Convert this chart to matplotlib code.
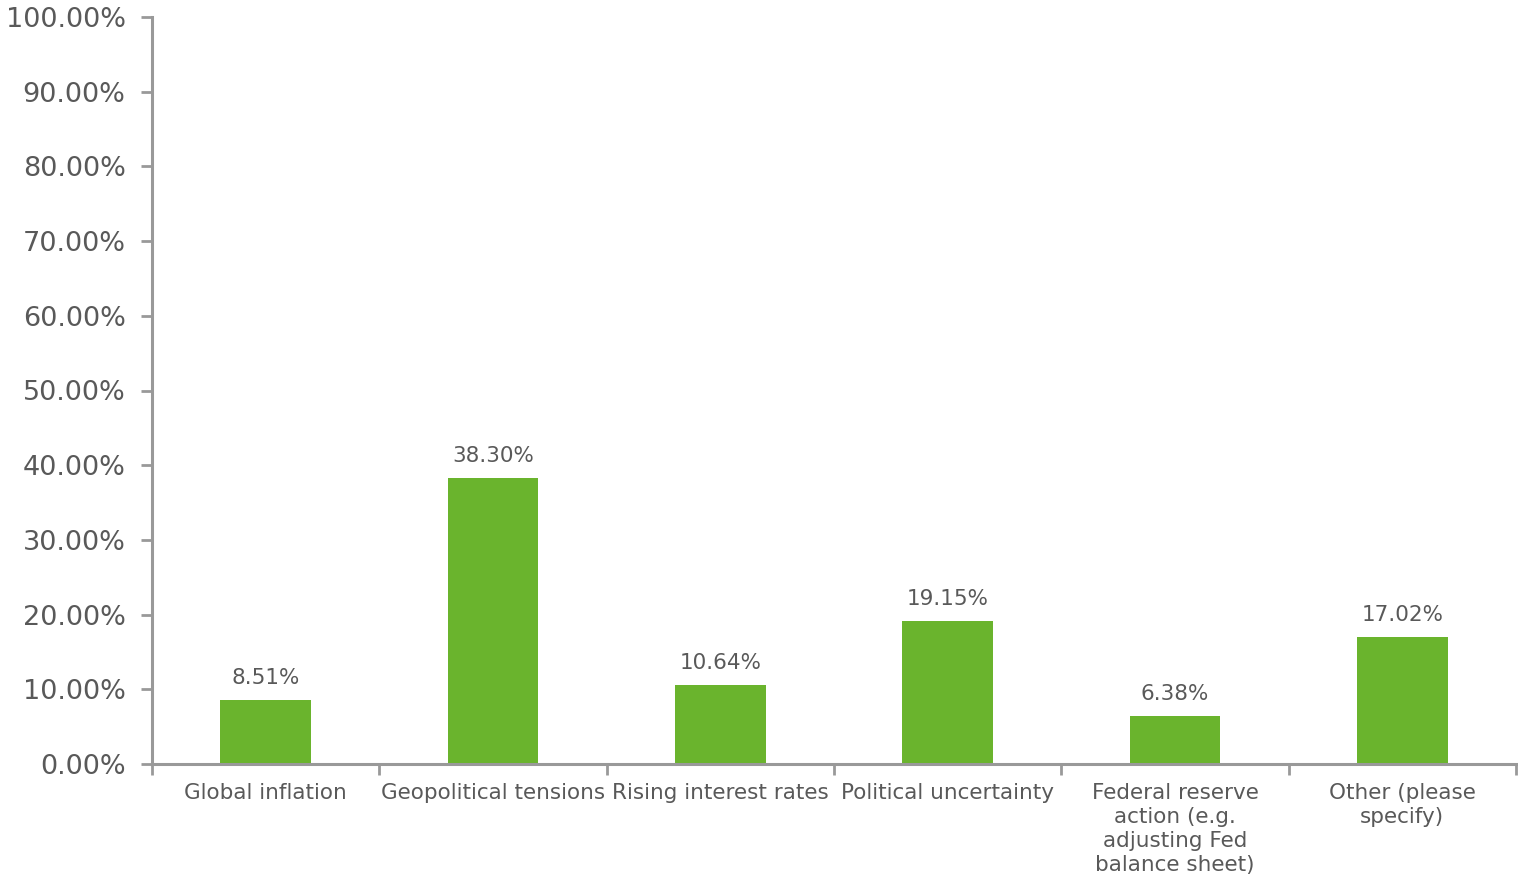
import matplotlib.pyplot as plt
import numpy as np

# === DATA ===
categories = [
    "Global inflation",
    "Geopolitical tensions",
    "Rising interest rates",
    "Political uncertainty",
    "Federal reserve\naction (e.g.\nadjusting Fed\nbalance sheet)",
    "Other (please\nspecify)",
]
shares = [8.51, 38.30, 10.64, 19.15, 6.38, 17.02]
y_ticks = [0, 10, 20, 30, 40, 50, 60, 70, 80, 90, 100]

# === STYLE ===
BAR_COLOR = "#6ab42d"
TEXT_COLOR = "#595959"
AXIS_COLOR = "#999999"

plt.rcParams["font.family"] = ["DejaVu Sans"]

fig = plt.figure(figsize=(15.18, 8.83), dpi=100)
ax = fig.add_axes([152 / 1518, 1 - 764 / 883, (1516 - 152) / 1518, (764 - 17) / 883])

x = np.arange(len(categories))
bars = ax.bar(x, shares, width=0.4, color=BAR_COLOR, zorder=2)

for xi, v in zip(x, shares):
    ax.text(xi, v + 1.6, f"{v:.2f}%", ha="center", va="bottom",
            fontsize=15.5, color=TEXT_COLOR)

ax.set_xlim(-0.5, len(categories) - 0.5)
ax.set_ylim(0, 100)
ax.set_yticks(y_ticks)
ax.set_yticklabels([f"{t:.2f}%" for t in y_ticks], fontsize=19.5, color=TEXT_COLOR)

ax.set_xticks(x)
ax.set_xticklabels(categories, fontsize=15.5, color=TEXT_COLOR, linespacing=1.25)
ax.set_xticks(np.arange(len(categories) + 1) - 0.5, minor=True)
ax.tick_params(axis="x", which="major", length=0, pad=14)
ax.tick_params(axis="x", which="minor", length=8, width=2, color=AXIS_COLOR)
ax.tick_params(axis="y", length=8, width=2, color=AXIS_COLOR, pad=11)

for side in ["top", "right"]:
    ax.spines[side].set_visible(False)
for side in ["left", "bottom"]:
    ax.spines[side].set_color(AXIS_COLOR)
    ax.spines[side].set_linewidth(2.2)

fig.savefig("out.png", dpi=100)
